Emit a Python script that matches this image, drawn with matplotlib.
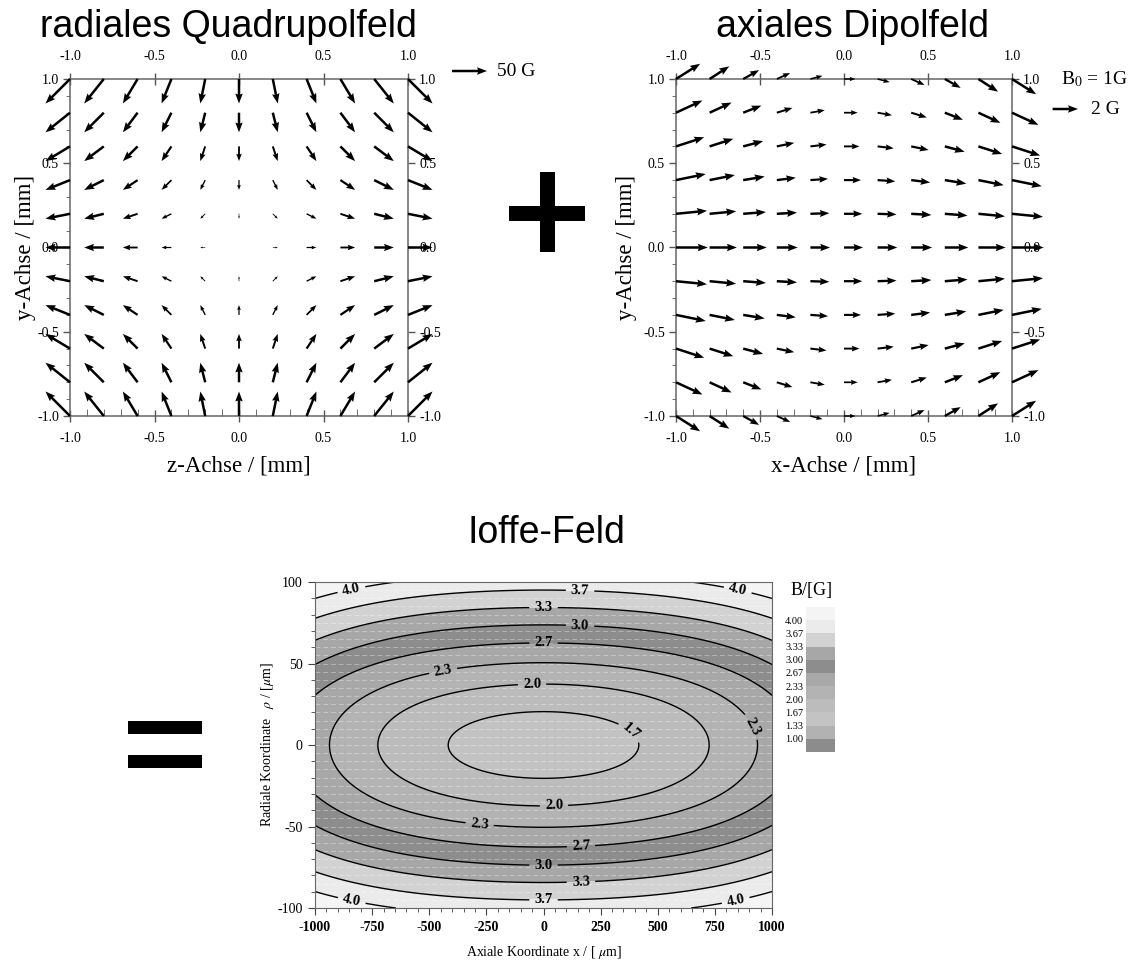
import numpy as np
import matplotlib
matplotlib.use('Agg')
import matplotlib.pyplot as plt
from matplotlib.colors import ListedColormap, BoundaryNorm
from matplotlib.cm import ScalarMappable
from matplotlib.patches import Rectangle
from matplotlib.ticker import MultipleLocator, FormatStrFormatter

plt.rcParams['font.family'] = ['Liberation Serif', 'DejaVu Serif']
plt.rcParams['mathtext.fontset'] = 'stix'
plt.rcParams['axes.unicode_minus'] = False

# grid of the two vector plots (mm)
grid = [-1.0, -0.8, -0.6, -0.4, -0.2, 0.0, 0.2, 0.4, 0.6, 0.8, 1.0]

# radial quadrupole field (G): B_z along z, B_y along y
quad_bz = [-35, -28, -21, -14, -7, 0, 7, 14, 21, 28, 35]
quad_by = [35, 28, 21, 14, 7, 0, -7, -14, -21, -28, -35]

# axial dipole field (G)
dip_bx_row = [2.5, 2.15, 1.85, 1.65, 1.55, 1.5, 1.55, 1.65, 1.85, 2.15, 2.5]       # B_x on y = 0
dip_bx_drop = [-0.6, -0.42, -0.28, -0.16, -0.06, 0, -0.06, -0.16, -0.28, -0.42, -0.6]  # change of B_x along y
dip_by_top = [1.2, 1.0, 0.7, 0.47, 0.25, 0, -0.25, -0.47, -0.7, -1.0, -1.2]       # B_y on y = 1

# Ioffe field: contour levels and where they cross the axes
levels = [1.00, 1.33, 1.67, 2.00, 2.33, 2.67, 3.00, 3.33, 3.67, 4.00]
axial_cross_x = [418, 724, 937]          # um, on rho = 0
axial_cross_b = [1.67, 2.00, 2.33]
radial_cross_rho = [18, 37, 52, 63, 73.5, 85, 94.5]   # um, on x = 0
radial_cross_b = [1.67, 2.00, 2.33, 2.67, 3.00, 3.33, 3.67]
fill_colors = ['#8c8c8c', '#b2b2b2', '#c3c3c3', '#bcbcbc', '#b3b3b3', '#a8a8a8',
               '#8d8d8d', '#a7a7a7', '#d2d2d2', '#ebebeb', '#f4f4f4']
label_pos = [(-840, 95), (160, 95), (850, 95), (0, 85), (160, 73), (0, 63),
             (-440, 46), (-50, 37), (373, 7), (909, 11), (46, -38), (-280, -49),
             (164, -62), (0, -74), (164, -85), (0, -96), (-840, -96), (842, -96)]

W, H = 1130, 963
fig = plt.figure(figsize=(W / 100, H / 100), dpi=100)


def box(l, t, r, b):
    return [l / W, 1 - b / H, (r - l) / W, (b - t) / H]


def style_vec_axes(ax, xlabel):
    ax.set_xlim(-1, 1)
    ax.set_ylim(-1, 1)
    ticks = [-1.0, -0.5, 0.0, 0.5, 1.0]
    ax.set_xticks(ticks)
    ax.set_yticks(ticks)
    for a in (ax.xaxis, ax.yaxis):
        a.set_minor_locator(MultipleLocator(0.1))
        a.set_major_formatter(FormatStrFormatter('%.1f'))
    ax.tick_params(axis='x', which='major', direction='inout', length=9, width=1,
                   top=True, labeltop=True, pad=7, labelsize=10, color='#555555')
    ax.tick_params(axis='x', which='minor', direction='in', length=5, top=False, color='#555555')
    ax.tick_params(axis='y', which='major', direction='out', length=5, width=1,
                   right=True, labelright=True, pad=3, labelsize=10, color='#555555')
    ax.tick_params(axis='y', which='minor', direction='out', length=3, right=False, color='#555555')
    for s in ax.spines.values():
        s.set_color('#666666')
        s.set_linewidth(1.1)
    ax.set_xlabel(xlabel, fontsize=16.5)
    ax.set_ylabel('y-Achse / [mm]', fontsize=16.5)
    ax.xaxis.set_label_coords(0.5, -0.118)


arrow_kw = dict(units='inches', scale_units='inches', width=0.025, headwidth=3,
                headlength=4, headaxislength=3.6, minshaft=2, minlength=0,
                pivot='tail', color='black', zorder=3, clip_on=False)

X, Y = np.meshgrid(grid, grid)

# quadrupole
ax1 = fig.add_axes(box(70, 79, 408, 416))
U1 = np.broadcast_to(np.array(quad_bz, float)[None, :], X.shape)
V1 = np.broadcast_to(np.array(quad_by, float)[:, None], X.shape)
q1 = ax1.quiver(X, Y, U1, V1, scale=50 / 0.35, **arrow_kw)
style_vec_axes(ax1, 'z-Achse / [mm]')
ax1.yaxis.set_label_coords(-0.1, 0.5)
ax1.quiverkey(q1, 487 / W, 1 - 71 / H, 50, '50 G', labelpos='E', coordinates='figure',
              labelsep=0.1, fontproperties={'size': 14})

# dipole
ax2 = fig.add_axes(box(676, 79, 1012, 416))
U2 = np.array(dip_bx_row)[None, :] + np.array(dip_bx_drop)[:, None]
V2 = np.outer(grid, dip_by_top)
q2 = ax2.quiver(X, Y, U2, V2, scale=2 / 0.254, **arrow_kw)
style_vec_axes(ax2, 'x-Achse / [mm]')
ax2.yaxis.set_label_coords(-0.115, 0.5)
ax2.quiverkey(q2, 1078 / W, 1 - 109 / H, 2, '2 G', labelpos='E', coordinates='figure',
              labelsep=0.13, fontproperties={'size': 14})
fig.text(1061 / W, 1 - 79 / H, r'B$_0$ = 1G', ha='left', va='center', fontsize=14)

# titles
for txt, cx, cy in [('radiales Quadrupolfeld', 228, 27), ('axiales Dipolfeld', 852, 27),
                    ('Ioffe-Feld', 546, 533)]:
    fig.text(cx / W, 1 - cy / H, txt, ha='center', va='center', fontsize=27,
             family='Liberation Sans')

# plus and equals signs
for l, t, r, b in [(509, 206, 585, 221), (540, 172, 555, 252),
                   (128, 721, 202, 734), (128, 755, 202, 768)]:
    fig.add_artist(Rectangle((l / W, 1 - b / H), (r - l) / W, (b - t) / H,
                             transform=fig.transFigure, color='black', lw=0))

# Ioffe field contour
ax3 = fig.add_axes(box(315, 582, 772, 908))
curv, b_min = np.polyfit(np.square(axial_cross_x), axial_cross_b, 1)
grad2, _ = np.polyfit(np.square(radial_cross_rho), np.square(radial_cross_b), 1)
xs = np.linspace(-1000, 1000, 401)
rs = np.linspace(-100, 100, 201)
XX, RR = np.meshgrid(xs, rs)
BB = np.sqrt((b_min + curv * XX ** 2) ** 2 + grad2 * RR ** 2)
bounds = [0.0] + levels + [10.0]
ax3.contourf(XX, RR, BB, levels=bounds, colors=fill_colors)
for r in np.arange(-95, 100, 5):
    ax3.axhline(r, color='white', alpha=0.35, lw=0.7, dashes=(5, 3))
cl = ax3.contour(XX, RR, BB, levels=levels[2:], colors='black', linewidths=1.0)
texts = ax3.clabel(cl, fmt='%.1f', manual=label_pos, inline=True, fontsize=10.5)
for t in texts:
    t.set_fontweight('bold')
ax3.set_xlim(-1000, 1000)
ax3.set_ylim(-100, 100)
ax3.set_xticks([-1000, -750, -500, -250, 0, 250, 500, 750, 1000])
ax3.set_yticks([-100, -50, 0, 50, 100])
ax3.xaxis.set_minor_locator(MultipleLocator(50))
ax3.yaxis.set_minor_locator(MultipleLocator(10))
ax3.tick_params(which='major', direction='out', length=5, labelsize=10, pad=4, color='#444444')
ax3.tick_params(which='minor', direction='out', length=3, color='#444444')
for lab in ax3.get_xticklabels():
    lab.set_fontweight('bold')
for s in ax3.spines.values():
    s.set_color('#666666')
ax3.set_xlabel(r'Axiale Koordinate x / [ $\mu$m]', fontsize=10)
ax3.set_ylabel(r'Radiale Koordinate   $\rho$ / [$\mu$m]', fontsize=10)
ax3.xaxis.set_label_coords(0.5, -0.11)
ax3.yaxis.set_label_coords(-0.085, 0.5)

# legend of grey levels
cax = fig.add_axes(box(806, 607, 835, 752))
cmap = ListedColormap(fill_colors)
norm = BoundaryNorm(bounds, cmap.N)
cb = fig.colorbar(ScalarMappable(norm=norm, cmap=cmap), cax=cax, boundaries=bounds,
                  ticks=levels, spacing='uniform')
cb.outline.set_visible(False)
cax.minorticks_off()
cax.yaxis.set_ticks_position('left')
cax.set_yticklabels(['%.2f' % v for v in levels])
cax.tick_params(length=0, labelsize=7.5, pad=2)
fig.text(812 / W, 1 - 590 / H, 'B/[G]', ha='center', va='center', fontsize=13)

fig.savefig('out.png', dpi=100)
